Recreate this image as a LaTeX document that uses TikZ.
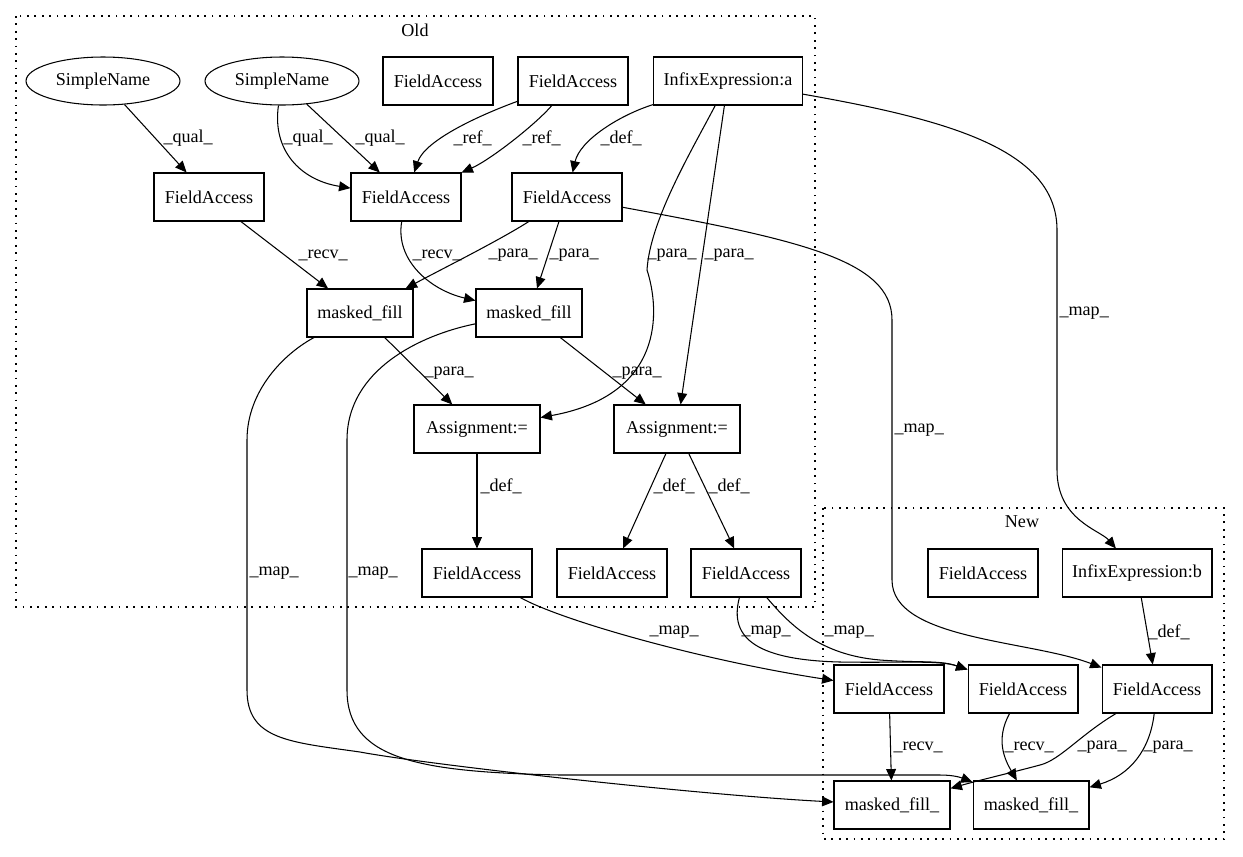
\documentclass[tikz,border=0pt]{standalone}
\usepackage{fontspec}
\setmainfont{Liberation Serif}
\usetikzlibrary{arrows.meta,shapes.geometric}

\tikzset{
  box/.style={rectangle,draw,line width=0.6pt,minimum width=2.2cm,minimum height=0.96cm,inner sep=0pt},
  oval/.style={ellipse,draw,line width=0.6pt,minimum width=3.08cm,minimum height=0.96cm,inner sep=0pt},
  lab/.style={anchor=west,inner sep=0pt},
  cluster/.style={draw,line width=0.9pt,dash pattern=on 1pt off 3.2pt}
}

\begin{document}
\begin{tikzpicture}[x=0.02cm,y=-0.02cm,font=\fontsize{10.3}{12}\selectfont]
\useasboundingbox (0,0) rectangle (1243,856);

% clusters
\draw[cluster] (16,16) rectangle (815,607);
\node (oldname) at (415,30) {Old};
\draw[cluster] (823,508) rectangle (1224,839);
\node (newname) at (1022,522) {New};

\begin{scope}[every node/.style={box}]
    \node[oval] (sn1) at (103,81) {SimpleName};
    \node[oval] (sn2) at (282,81) {SimpleName};
    \node (faTop) at (438,81) {FieldAccess};
    \node (faRef) at (573,81) {FieldAccess};
    \node[minimum width=2.98cm] (infixA) at (728,81) {InfixExpression:a};
    \node (faQ1) at (209,197) {FieldAccess};
    \node (faQ2) at (406,197) {FieldAccess};
    \node (faDef) at (567,197) {FieldAccess};
    \node[minimum width=2.12cm] (mf1) at (360,313) {masked\_fill};
    \node[minimum width=2.12cm] (mf2) at (529,313) {masked\_fill};
    \node[minimum width=2.52cm] (asg1) at (477,429) {Assignment:=};
    \node[minimum width=2.52cm] (asg2) at (677,429) {Assignment:=};
    \node (faA) at (477,573) {FieldAccess};
    \node (faB) at (612,573) {FieldAccess};
    \node (faC) at (746,573) {FieldAccess};
    \node (faNew) at (983,573) {FieldAccess};
    \node[minimum width=3cm] (infixB) at (1137,573) {InfixExpression:b};
    \node (fan1) at (889,689) {FieldAccess};
    \node (fan2) at (1023,689) {FieldAccess};
    \node (fan3) at (1157,689) {FieldAccess};
    \node[minimum width=2.32cm] (mfn1) at (892,805) {masked\_fill\_};
    \node[minimum width=2.32cm] (mfn2) at (1031,805) {masked\_fill\_};
\end{scope}

\begin{scope}[>={Triangle[length=6.5pt,width=5.6pt]},
              every node/.style={lab},
              line width=0.6pt]
    % old graph
    \draw[->] (sn1) -- (faQ1) node at (163,138) {\_qual\_};
    \draw[->] (sn2) .. controls (272,150) and (300,180) .. (faQ2) node at (283,138) {\_qual\_};
    \draw[->] (sn2) -- (faQ2) node at (355,138) {\_qual\_};
    \draw[->] (faRef) .. controls (480,115) and (425,140) .. (faQ2) node at (453,138) {\_ref\_};
    \draw[->] (faRef) .. controls (535,125) and (490,160) .. (faQ2) node at (522,138) {\_ref\_};
    \draw[->] (infixA) .. controls (620,115) and (580,140) .. (faDef) node at (600,138) {\_def\_};
    \draw[->] (infixA) .. controls (692,150) and (650,220) .. (647,270)
        .. controls (660,310) and (665,395) .. (asg1) node at (647,255) {\_para\_};
    \draw[->] (infixA) -- (asg2) node at (704,255) {\_para\_};
    \draw[->] (infixA) .. controls (950,120) and (1057,150) .. (1057,230) -- (1057,470)
        .. controls (1057,520) and (1100,530) .. (infixB) node at (1059,313) {\_map\_};
    \draw[->] (faQ1) -- (mf1) node at (298,255) {\_recv\_};
    \draw[->] (faQ2) .. controls (395,260) and (430,290) .. (mf2) node at (412,255) {\_recv\_};
    \draw[->] (faDef) .. controls (500,240) and (440,270) .. (mf1) node at (488,255) {\_para\_};
    \draw[->] (faDef) -- (mf2) node at (549,255) {\_para\_};
    \draw[->] (faDef) .. controls (800,240) and (892,260) .. (892,320) -- (892,580)
        .. controls (892,640) and (1030,640) .. (fan3) node at (894,430) {\_map\_};
    \draw[->] (mf1) -- (asg1) node at (424,373) {\_para\_};
    \draw[->] (mf2) -- (asg2) node at (612,373) {\_para\_};
    \draw[->] (mf1) .. controls (285,353) and (247,390) .. (247,440) -- (247,690)
        .. controls (247,740) and (290,742) .. (360,752)
        .. controls (430,765) and (700,795) .. (mfn1) node at (249,573) {\_map\_};
    \draw[->] (mf2) .. controls (420,335) and (347,370) .. (347,440) -- (347,690)
        .. controls (347,760) and (420,772) .. (560,775) -- (940,775)
        .. controls (955,775) and (962,778) .. (mfn2) node at (348,573) {\_map\_};
    \draw[->] (asg1) -- (faA) node at (480,486) {\_def\_};
    \draw[->] (asg2) -- (faB) node at (653,486) {\_def\_};
    \draw[->] (asg2) -- (faC) node at (708,486) {\_def\_};
    % old to new
    \draw[->] (faA) .. controls (560,620) and (700,660) .. (fan1) node at (649,632) {\_map\_};
    \draw[->] (faC) .. controls (728,640) and (760,660) .. (840,662)
        .. controls (900,663) and (940,660) .. (fan2) node at (741,632) {\_map\_};
    \draw[->] (faC) .. controls (790,625) and (820,655) .. (880,660)
        .. controls (920,663) and (940,660) .. (fan2) node at (824,632) {\_map\_};
    % new graph
    \draw[->] (infixB) -- (fan3) node at (1148,632) {\_def\_};
    \draw[->] (fan1) -- (mfn1) node at (893,747) {\_recv\_};
    \draw[->] (fan2) .. controls (995,740) and (1005,760) .. (mfn2) node at (1004,747) {\_recv\_};
    \draw[->] (fan3) .. controls (1080,735) and (1060,760) .. (1040,765)
        .. controls (1010,773) and (980,780) .. (mfn1) node at (1077,747) {\_para\_};
    \draw[->] (fan3) .. controls (1150,750) and (1130,775) .. (mfn2) node at (1143,747) {\_para\_};
\end{scope}
\end{tikzpicture}
\end{document}
